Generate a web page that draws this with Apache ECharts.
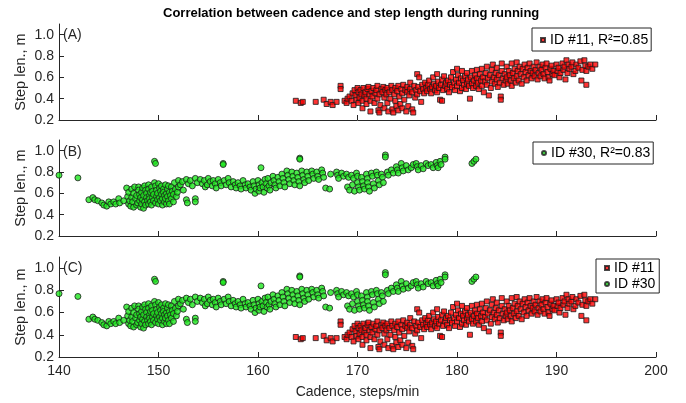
<!DOCTYPE html>
<html>
<head>
<meta charset="utf-8">
<script src="https://cdn.jsdelivr.net/npm/echarts@6/dist/echarts.min.js"></script>
<style>html,body{margin:0;padding:0;background:#fff;}#chart{width:686px;height:403px;}</style>
</head>
<body>
<div id="chart"></div>
<script>
// ---- data (cadence [steps/min], step length [m]) ----
const titleText = 'Correlation between cadence and step length during running';
const xTicks = [140, 150, 160, 170, 180, 190, 200];
const yTicks = [0.2, 0.4, 0.6, 0.8, 1.0];
const panelLabels = ['(A)', '(B)', '(C)'];
const id11Name = 'ID #11';
const id30Name = 'ID #30';
const id11R2 = '0.85';
const id30R2 = '0.83';

const id11Points = [
[163.8,0.38],[164.3,0.36],[164.5,0.37],[165.8,0.37],[166.6,0.39],[166.9,0.35],[167.3,0.37],[167.5,0.34],[167.9,0.37],[168.3,0.52],[168.3,0.49],[168.7,0.38],[168.9,0.36],[169.0,0.40],
[169.2,0.42],[169.4,0.38],[169.5,0.45],[169.6,0.34],[169.7,0.48],[169.8,0.43],[169.9,0.39],[170.0,0.50],[170.1,0.46],[170.1,0.36],[170.2,0.41],[170.3,0.48],[170.4,0.44],[170.5,0.31],[170.5,0.38],[170.6,0.50],[170.7,0.43],[170.8,0.46],[170.9,0.40],[170.9,0.35],[171.0,0.49],[171.1,0.51],[171.2,0.44],[171.3,0.28],[171.3,0.38],[171.4,0.47],[171.5,0.42],[171.6,0.50],[171.7,0.36],[171.8,0.45],[171.9,0.48],[172.0,0.40],[172.0,0.52],[172.1,0.29],[172.2,0.27],[172.2,0.44],[172.3,0.34],[172.4,0.49],[172.5,0.46],[172.6,0.51],[172.7,0.31],[172.7,0.41],[172.8,0.48],[172.9,0.44],[173.0,0.50],[173.0,0.36],[173.1,0.28],[173.2,0.46],[173.3,0.40],[173.4,0.52],[173.5,0.30],[173.5,0.48],[173.6,0.27],[173.7,0.44],[173.8,0.50],[173.8,0.38],[173.9,0.33],[174.0,0.47],[174.1,0.52],[174.1,0.29],[174.2,0.42],[174.3,0.35],[174.4,0.49],[174.5,0.45],[174.5,0.31],[174.6,0.53],[174.7,0.39],[174.8,0.48],[174.9,0.28],[175.0,0.46],[175.0,0.51],[175.1,0.33],[175.2,0.43],[175.3,0.55],[175.3,0.49],[175.5,0.30],[175.5,0.46],[175.6,0.27],[175.7,0.52],[175.8,0.41],[175.9,0.48],
[176.0,0.63],[176.0,0.44],[176.1,0.51],[176.2,0.60],[176.3,0.47],[176.4,0.37],[176.5,0.53],[176.6,0.49],[176.7,0.45],[176.8,0.55],[176.9,0.50],[177.0,0.47],[177.1,0.53],[177.2,0.57],[177.3,0.49],[177.4,0.45],[177.5,0.51],[177.6,0.60],[177.7,0.54],[177.8,0.48],[177.9,0.52],[178.0,0.63],[178.0,0.46],[178.1,0.56],[178.2,0.50],[178.3,0.39],[178.4,0.53],[178.5,0.58],[178.5,0.38],[178.6,0.48],[178.7,0.61],[178.8,0.52],[178.9,0.55],[179.0,0.49],[179.1,0.57],[179.2,0.46],[179.3,0.53],[179.4,0.60],[179.5,0.51],[179.6,0.65],[179.7,0.55],[179.8,0.48],[179.9,0.58],
[180.0,0.68],[180.0,0.52],[180.1,0.62],[180.2,0.55],[180.3,0.47],[180.4,0.59],[180.5,0.66],[180.5,0.50],[180.6,0.57],[180.7,0.53],[180.8,0.61],[180.9,0.49],[181.0,0.64],[181.0,0.55],[181.1,0.58],[181.2,0.52],[181.3,0.40],[181.4,0.60],[181.5,0.66],[181.5,0.54],[181.6,0.50],[181.7,0.57],[181.8,0.62],[181.9,0.52],[182.0,0.67],[182.0,0.59],[182.1,0.55],[182.2,0.49],[182.3,0.63],[182.4,0.57],[182.5,0.68],[182.5,0.52],[182.6,0.60],[182.7,0.46],[182.8,0.56],[182.9,0.64],[183.0,0.70],[183.0,0.53],[183.1,0.59],[183.2,0.43],[183.3,0.62],[183.4,0.50],[183.5,0.67],[183.5,0.56],[183.6,0.72],[183.7,0.60],[183.8,0.54],[183.9,0.64],[184.0,0.69],[184.0,0.58],[184.1,0.51],[184.2,0.62],[184.3,0.55],[184.4,0.42],[184.4,0.39],[184.5,0.66],[184.5,0.73],[184.6,0.59],[184.7,0.53],[184.8,0.63],[184.9,0.57],
[185.0,0.70],[185.0,0.60],[185.1,0.54],[185.2,0.66],[185.3,0.62],[185.4,0.57],[185.5,0.73],[185.5,0.52],[185.6,0.64],[185.7,0.59],[185.8,0.68],[185.9,0.55],[186.0,0.74],[186.0,0.61],[186.1,0.66],[186.2,0.57],[186.3,0.70],[186.4,0.63],[186.5,0.54],[186.6,0.68],[186.7,0.60],[186.8,0.72],[186.9,0.65],[187.0,0.57],[187.1,0.69],[187.2,0.62],[187.3,0.73],[187.4,0.66],[187.5,0.59],[187.6,0.64],[187.7,0.70],[187.8,0.61],[187.9,0.67],[188.0,0.74],[188.1,0.58],[188.2,0.64],[188.3,0.70],[188.4,0.61],[188.5,0.67],[188.6,0.72],[188.7,0.63],[188.8,0.59],[188.9,0.69],[189.0,0.73],[189.1,0.65],[189.2,0.60],[189.3,0.57],[189.4,0.68],[189.5,0.71],[189.6,0.63],[189.7,0.66],[189.8,0.62],
[190.0,0.72],[190.1,0.66],[190.2,0.69],[190.3,0.60],[190.4,0.64],[190.6,0.73],[190.7,0.67],[190.8,0.70],[190.9,0.58],[191.0,0.76],[191.1,0.64],[191.2,0.72],[191.3,0.68],[191.5,0.70],[191.6,0.74],[191.7,0.63],[191.9,0.66],[192.0,0.72],[192.2,0.69],[192.4,0.75],[192.5,0.57],[192.6,0.67],[192.8,0.76],[192.9,0.71],[193.0,0.53],[193.0,0.66],[193.2,0.70],[193.4,0.72],[193.6,0.68],[193.9,0.72]
];

const id30Points = [
[140.0,0.77],[141.9,0.745],[143.0,0.54],[143.4,0.56],[143.6,0.54],[143.9,0.53],[144.3,0.51],[144.5,0.49],[144.8,0.48],[145.0,0.52],[145.2,0.50],[145.5,0.52],[145.7,0.50],[146.0,0.55],[146.1,0.51],[146.5,0.53],
[146.8,0.65],[146.9,0.57],[147.0,0.61],[147.0,0.50],[147.1,0.53],[147.2,0.48],[147.3,0.64],[147.3,0.56],[147.4,0.52],[147.5,0.47],[147.5,0.60],[147.6,0.66],[147.7,0.55],[147.8,0.49],[147.8,0.58],[147.9,0.51],[148.0,0.66],[148.0,0.63],[148.1,0.59],[148.1,0.53],[148.2,0.47],[148.2,0.56],[148.3,0.61],[148.3,0.50],[148.4,0.65],[148.4,0.54],[148.5,0.46],[148.5,0.58],[148.6,0.67],[148.6,0.52],[148.7,0.63],[148.7,0.49],[148.8,0.60],[148.8,0.56],[148.9,0.53],[149.0,0.68],[149.0,0.64],[149.0,0.50],[149.1,0.58],[149.1,0.55],[149.2,0.61],[149.2,0.52],[149.3,0.66],[149.3,0.49],[149.4,0.62],[149.4,0.56],[149.5,0.59],[149.5,0.53],[149.6,0.70],[149.6,0.90],[149.7,0.88],[149.7,0.67],[149.7,0.51],[149.8,0.63],[149.8,0.57],[149.9,0.60],[149.9,0.54],
[150.0,0.69],[150.0,0.50],[150.1,0.65],[150.1,0.56],[150.2,0.62],[150.2,0.53],[150.3,0.59],[150.3,0.67],[150.4,0.49],[150.4,0.55],[150.5,0.64],[150.5,0.61],[150.6,0.58],[150.6,0.52],[150.7,0.68],[150.7,0.55],[150.8,0.60],[150.8,0.50],[150.9,0.64],[150.9,0.57],[151.0,0.67],[151.0,0.53],[151.1,0.61],[151.1,0.50],[151.2,0.58],[151.3,0.66],[151.3,0.55],[151.4,0.62],[151.5,0.59],[151.5,0.52],[151.6,0.70],[151.7,0.64],[151.8,0.57],[151.9,0.61],
[152.0,0.72],[152.0,0.66],[152.2,0.68],[152.4,0.71],[152.5,0.63],[152.8,0.73],[152.8,0.54],[152.9,0.51],[153.0,0.69],[153.2,0.72],[153.4,0.67],[153.7,0.74],[153.7,0.55],[153.7,0.52],[153.9,0.70],[154.2,0.73],[154.4,0.69],[154.6,0.72],[154.7,0.66],[154.9,0.68],[155.0,0.74],[155.2,0.71],[155.4,0.67],[155.5,0.72],[155.7,0.69],[155.8,0.65],[156.0,0.73],[156.2,0.70],[156.3,0.67],[156.5,0.88],[156.5,0.87],[156.6,0.72],[156.8,0.68],[157.0,0.74],[157.1,0.70],[157.3,0.66],[157.5,0.71],[157.7,0.68],[157.8,0.65],[158.0,0.70],[158.2,0.67],[158.3,0.64],[158.5,0.72],[158.7,0.68],[158.8,0.65],[159.0,0.69],[159.2,0.66],[159.3,0.63],[159.5,0.71],[159.6,0.67],[159.7,0.60],[159.8,0.64],
[160.0,0.72],[160.1,0.68],[160.1,0.62],[160.2,0.65],[160.3,0.84],[160.4,0.70],[160.5,0.66],[160.6,0.61],[160.7,0.73],[160.8,0.69],[160.9,0.65],[161.0,0.74],[161.1,0.67],[161.2,0.63],[161.3,0.70],[161.5,0.76],[161.6,0.72],[161.7,0.68],[161.8,0.65],[162.0,0.75],[162.1,0.71],[162.2,0.67],[162.4,0.78],[162.5,0.74],[162.6,0.70],[162.7,0.66],[162.9,0.81],[163.0,0.77],[163.1,0.73],[163.2,0.69],[163.4,0.80],[163.5,0.76],[163.6,0.72],[163.7,0.68],[163.9,0.79],[164.0,0.75],[164.1,0.71],[164.2,0.93],[164.2,0.92],[164.2,0.67],[164.4,0.81],[164.5,0.77],[164.6,0.73],[164.7,0.70],[164.9,0.80],[165.0,0.76],[165.1,0.72],[165.4,0.81],[165.5,0.78],[165.6,0.74],[165.9,0.80],[166.0,0.76],[166.1,0.73],[166.4,0.82],[166.5,0.79],[166.6,0.75],[166.8,0.65],[167.2,0.64],[167.3,0.78],[167.9,0.80],[168.0,0.77],[168.1,0.74],[168.4,0.79],[168.6,0.76],[168.9,0.78],[169.0,0.66],[169.1,0.75],[169.2,0.63],[169.4,0.77],[169.5,0.68],[169.6,0.74],[169.7,0.62],[169.9,0.79],
[170.0,0.70],[170.0,0.76],[170.1,0.66],[170.2,0.63],[170.4,0.75],[170.5,0.71],[170.6,0.67],[170.7,0.64],[170.9,0.78],[171.0,0.74],[171.0,0.70],[171.1,0.66],[171.2,0.62],[171.4,0.79],[171.5,0.76],[171.6,0.69],[171.7,0.65],[171.9,0.80],[172.0,0.77],[172.1,0.72],[172.2,0.68],[172.4,0.78],[172.5,0.75],[172.6,0.70],[172.8,0.96],[172.8,0.94],[173.0,0.80],[173.1,0.77],[173.4,0.82],[173.6,0.79],[173.9,0.85],[174.0,0.82],[174.1,0.79],[174.4,0.88],[174.5,0.84],[174.6,0.81],[174.9,0.86],[175.1,0.82],[175.4,0.84],[175.6,0.87],[175.9,0.88],[176.0,0.85],[176.1,0.82],[176.4,0.86],[176.6,0.83],[176.9,0.88],[177.1,0.86],[177.4,0.87],[177.6,0.84],[177.9,0.89],[178.0,0.86],[178.1,0.84],[178.3,0.90],[178.4,0.87],[178.8,0.94],[178.8,0.92],[181.5,0.88],[181.7,0.90],[181.9,0.92]
];

// ---- chart ----
const FONT = '"Liberation Sans", Arial, Helvetica, sans-serif';
const AX = '#262626';
const chart = echarts.init(document.getElementById('chart'), null, {renderer: 'canvas'});

const redStyle = {color: '#ff0000', borderColor: '#1a1a1a', borderWidth: 1};
const greenStyle = {color: '#1ee61e', borderColor: '#1a1a1a', borderWidth: 1};

const grids = [
  {left: 59, right: 30, top: 24, height: 96},
  {left: 59, right: 30, top: 140, height: 96},
  {left: 59, right: 30, top: 257, height: 100}
];

const xAxes = grids.map((g, i) => ({
  type: 'value', gridIndex: i, min: xTicks[0], max: xTicks[xTicks.length - 1], interval: 10,
  axisLine: {show: true, onZero: false, lineStyle: {color: AX, width: 1}},
  axisTick: {show: true, inside: true, length: 5, lineStyle: {color: AX}},
  axisLabel: {show: i === 2, fontSize: 14, color: AX, fontFamily: FONT, margin: 7},
  splitLine: {show: false},
  name: i === 2 ? 'Cadence, steps/min' : '',
  nameLocation: 'middle', nameGap: 28, nameMoveOverlap: false,
  nameTextStyle: {fontSize: 14, color: AX, fontFamily: FONT}
}));

const yAxes = grids.map((g, i) => ({
  type: 'value', gridIndex: i, min: 0.2, max: 1.1,
  axisLine: {show: true, onZero: false, lineStyle: {color: AX, width: 1}},
  axisTick: {show: true, inside: true, length: 5, lineStyle: {color: AX}, customValues: yTicks},
  axisLabel: {show: true, fontSize: 14, color: AX, fontFamily: FONT, margin: 5,
              customValues: yTicks, formatter: v => Number(v).toFixed(1)},
  splitLine: {show: false},
  name: 'Step len., m', nameLocation: 'middle', nameGap: 31, nameMoveOverlap: false,
  nameTextStyle: {fontSize: 14.5, color: AX, fontFamily: FONT}
}));

const legendBase = {
  borderColor: AX, borderWidth: 1, backgroundColor: '#fff', borderRadius: 0,
  itemWidth: 4, itemHeight: 4, selectedMode: false,
  textStyle: {fontSize: 14, color: '#000', fontFamily: FONT}
};

const nameA = id11Name + ', R\u00b2=' + id11R2;
const nameB = id30Name + ', R\u00b2=' + id30R2;

const option = {
  animation: false,
  backgroundColor: '#fff',
  title: {text: titleText, left: 158, top: 2,
          textStyle: {fontSize: 13, fontWeight: 'bold', color: '#000', fontFamily: FONT}},
  grid: grids,
  xAxis: xAxes,
  yAxis: yAxes,
  legend: [
    Object.assign({}, legendBase, {data: [nameA], left: 532, top: 28, padding: [5, 3, 4, 8]}),
    Object.assign({}, legendBase, {data: [nameB], left: 533, top: 142, padding: [4, 3, 4, 8]}),
    Object.assign({}, legendBase, {data: [id11Name, id30Name], orient: 'vertical', left: 596, top: 259,
                                   itemGap: 2, padding: [2, 4, 2, 8]})
  ],
  graphic: panelLabels.map((t, i) => ({
    type: 'text', left: 63, top: [28, 145, 261][i],
    style: {text: t, fontSize: 14, fontFamily: FONT, fill: AX}
  })),
  series: [
    {name: nameA, type: 'scatter', xAxisIndex: 0, yAxisIndex: 0, data: id11Points,
     symbol: 'rect', symbolSize: 5, itemStyle: redStyle},
    {name: nameB, type: 'scatter', xAxisIndex: 1, yAxisIndex: 1, data: id30Points,
     symbol: 'circle', symbolSize: 6, itemStyle: greenStyle},
    {name: id11Name, type: 'scatter', xAxisIndex: 2, yAxisIndex: 2, data: id11Points,
     symbol: 'rect', symbolSize: 5, itemStyle: redStyle},
    {name: id30Name, type: 'scatter', xAxisIndex: 2, yAxisIndex: 2, data: id30Points,
     symbol: 'circle', symbolSize: 6, itemStyle: greenStyle}
  ]
};
chart.setOption(option);
</script>
</body>
</html>
